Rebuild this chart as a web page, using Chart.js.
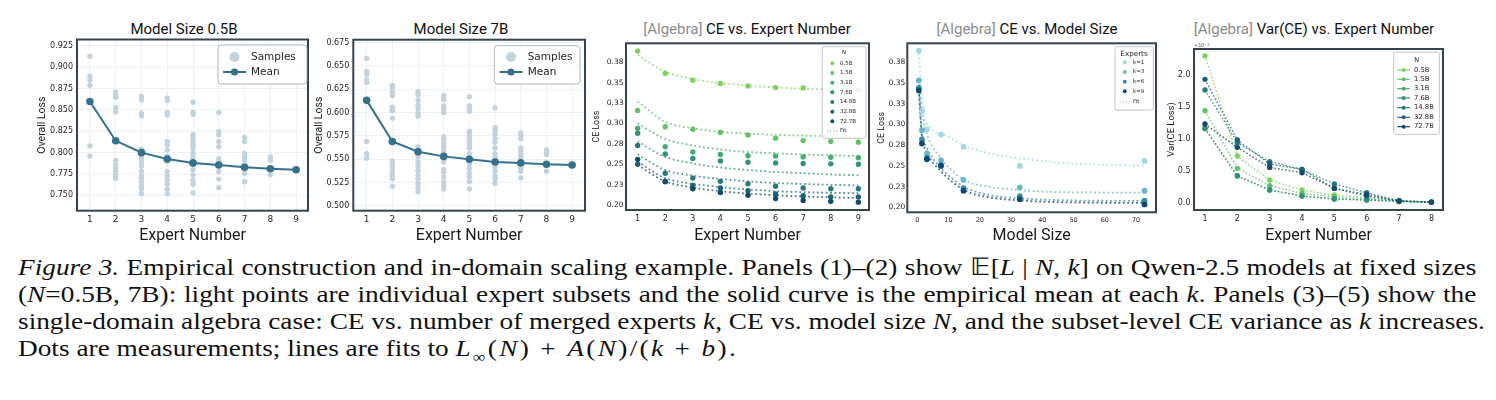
<!DOCTYPE html>
<html>
<head>
<meta charset="utf-8">
<script src="https://cdn.jsdelivr.net/npm/chart.js@4.4.1/dist/chart.umd.min.js"></script>
<style>
  body { margin: 0; background: #fff; width: 1496px; height: 400px; position: relative; overflow: hidden; }
  canvas { position: absolute; }
  .ttl { position: absolute; font-family: Roboto, sans-serif; font-size: 15px; color: #111; white-space: nowrap; transform: translate(-50%, -50%); }
  .ttl span { color: #8c8c8c; }
  #cap { position: absolute; left: 18px; top: 254px; width: 1255px; font-family: "Liberation Serif", serif; font-size: 23.5px; line-height: 27px; color: #111; transform: scaleX(1.162); transform-origin: 0 0; }
  #cap div { text-align: justify; text-align-last: justify; white-space: nowrap; }
  #cap div.last { text-align-last: left; }
  .math { letter-spacing: 2px; }
</style>
</head>
<body>
<div class="ttl" style="left:184px;top:29px">Model Size 0.5B</div>
<div class="ttl" style="left:461px;top:29px">Model Size 7B</div>
<div class="ttl" style="left:747px;top:29px"><span>[Algebra]</span> CE vs. Expert Number</div>
<div class="ttl" style="left:1027px;top:29px"><span>[Algebra]</span> CE vs. Model Size</div>
<div class="ttl" style="left:1314px;top:29px"><span>[Algebra]</span> Var(CE) vs. Expert Number</div>

<div id="cap">
  <div><i>Figure 3.</i> Empirical construction and in-domain scaling example. Panels (1)–(2) show 𝔼[<i>L</i> | <i>N</i>, <i>k</i>] on Qwen-2.5 models at fixed sizes</div>
  <div>(<i>N</i>=0.5B, 7B): light points are individual expert subsets and the solid curve is the empirical mean at each <i>k</i>. Panels (3)–(5) show the</div>
  <div>single-domain algebra case: CE vs. number of merged experts <i>k</i>, CE vs. model size <i>N</i>, and the subset-level CE variance as <i>k</i> increases.</div>
  <div class="last">Dots are measurements; lines are fits to <span class="math"><i>L</i><sub style="font-size:15px">∞</sub>(<i>N</i>) + <i>A</i>(<i>N</i>)/(<i>k</i> + <i>b</i>).</span></div>
</div>

<script>
// ── Data ──────────────────────────────────────────────────────────────
const K9 = [1, 2, 3, 4, 5, 6, 7, 8, 9];
const K9_LABELS = ["1", "2", "3", "4", "5", "6", "7", "8", "9"];
const K8 = [1, 2, 3, 4, 5, 6, 7, 8];
const K8_LABELS = ["1", "2", "3", "4", "5", "6", "7", "8"];

// Panel 1: Model Size 0.5B
const MEAN_05B = [0.860, 0.814, 0.800, 0.7926, 0.788, 0.7855, 0.7828, 0.7812, 0.780];
const SAMPLES_05B = [
  [0.913, 0.890, 0.885, 0.879, 0.860, 0.808, 0.796],
  [0.871, 0.867, 0.865, 0.853, 0.848, 0.814, 0.791, 0.786, 0.782, 0.778, 0.774, 0.770],
  [0.866, 0.862, 0.846, 0.843, 0.804, 0.800, 0.798, 0.794, 0.789, 0.784, 0.778, 0.773, 0.770, 0.766, 0.761, 0.757, 0.752],
  [0.864, 0.861, 0.847, 0.844, 0.813, 0.809, 0.803, 0.796, 0.790, 0.778, 0.773, 0.768, 0.763, 0.757, 0.752],
  [0.859, 0.847, 0.845, 0.821, 0.817, 0.813, 0.809, 0.805, 0.799, 0.795, 0.786, 0.780, 0.774, 0.768, 0.763, 0.753],
  [0.847, 0.825, 0.821, 0.813, 0.807, 0.793, 0.789, 0.778, 0.769, 0.759],
  [0.818, 0.813, 0.799, 0.795, 0.791, 0.786, 0.776, 0.766],
  [0.795, 0.791, 0.774],
  [0.780],
];
const Y_TICKS_05B = [0.75, 0.775, 0.8, 0.825, 0.85, 0.875, 0.9, 0.925];
const Y_LABELS_05B = ["0.750", "0.775", "0.800", "0.825", "0.850", "0.875", "0.900", "0.925"];

// Panel 2: Model Size 7B
const MEAN_7B = [0.613, 0.569, 0.558, 0.553, 0.550, 0.547, 0.546, 0.5445, 0.5438];
const SAMPLES_7B = [
  [0.658, 0.644, 0.641, 0.635, 0.632, 0.569, 0.556, 0.551],
  [0.629, 0.626, 0.622, 0.618, 0.606, 0.604, 0.602, 0.594, 0.548, 0.545, 0.541, 0.536, 0.532, 0.529, 0.521],
  [0.622, 0.619, 0.613, 0.608, 0.604, 0.599, 0.596, 0.563, 0.561, 0.553, 0.547, 0.543, 0.538, 0.533, 0.529, 0.524, 0.519, 0.515],
  [0.618, 0.614, 0.607, 0.604, 0.600, 0.574, 0.571, 0.567, 0.563, 0.559, 0.547, 0.539, 0.536, 0.531, 0.526, 0.522, 0.518],
  [0.617, 0.607, 0.604, 0.601, 0.580, 0.577, 0.573, 0.570, 0.566, 0.562, 0.556, 0.545, 0.540, 0.535, 0.531, 0.526, 0.518],
  [0.605, 0.584, 0.581, 0.577, 0.572, 0.568, 0.562, 0.556, 0.552, 0.541, 0.537, 0.532, 0.529, 0.524],
  [0.578, 0.576, 0.572, 0.562, 0.559, 0.555, 0.552, 0.540, 0.537, 0.530],
  [0.560, 0.557, 0.555, 0.537],
  [0.544],
];
const Y_TICKS_7B = [0.5, 0.525, 0.55, 0.575, 0.6, 0.625, 0.65, 0.675];
const Y_LABELS_7B = ["0.500", "0.525", "0.550", "0.575", "0.600", "0.625", "0.650", "0.675"];

// Panels 3-5: algebra domain
const SIZES = ["0.5B", "1.5B", "3.1B", "7.6B", "14.8B", "32.8B", "72.7B"];
const SIZE_B = [0.5, 1.5, 3.1, 7.6, 14.8, 32.8, 72.7];
// CE loss per model size, k = 1..9
const CE = [
  [0.389, 0.3615, 0.353, 0.349, 0.346, 0.344, 0.3435, 0.342, 0.341],
  [0.316, 0.296, 0.293, 0.289, 0.286, 0.282, 0.279, 0.278, 0.277],
  [0.294, 0.2715, 0.265, 0.262, 0.2605, 0.260, 0.259, 0.2585, 0.258],
  [0.288, 0.2625, 0.257, 0.254, 0.2525, 0.2515, 0.251, 0.2505, 0.250],
  [0.273, 0.239, 0.233, 0.229, 0.226, 0.223, 0.221, 0.220, 0.220],
  [0.250, 0.2285, 0.224, 0.221, 0.2175, 0.2135, 0.2115, 0.210, 0.2098],
  [0.256, 0.229, 0.220, 0.2155, 0.212, 0.208, 0.2057, 0.2045, 0.2035],
];
// fitted curves, read at k = 1..9
const CE_FIT = [
  [0.384, 0.3635, 0.3545, 0.3495, 0.3465, 0.3443, 0.3427, 0.3418, 0.341],
  [0.327, 0.302, 0.294, 0.290, 0.2875, 0.286, 0.285, 0.2845, 0.2838],
  [0.300, 0.281, 0.273, 0.268, 0.265, 0.2635, 0.262, 0.261, 0.260],
  [0.278, 0.259, 0.251, 0.246, 0.243, 0.2405, 0.239, 0.2375, 0.2365],
  [0.262, 0.243, 0.236, 0.232, 0.229, 0.227, 0.2258, 0.2248, 0.224],
  [0.253, 0.233, 0.226, 0.222, 0.219, 0.217, 0.2158, 0.215, 0.2145],
  [0.249, 0.229, 0.2215, 0.217, 0.214, 0.212, 0.2105, 0.2095, 0.2085],
];
const CE_TICKS = [0.2, 0.225, 0.25, 0.275, 0.3, 0.325, 0.35, 0.375];
const CE_LABELS = ["0.20", "0.23", "0.25", "0.28", "0.30", "0.33", "0.35", "0.38"];

// Panel 4: experts shown, and fits read along model size [N, CE]
const EXPERT_KS = [1, 3, 6, 9];
const FIT_K1 = [[0.5, 0.386], [1.9, 0.3175], [4.0, 0.2974], [10, 0.2853], [15, 0.2744], [23, 0.2652], [32.7, 0.2591], [44.3, 0.2543], [55, 0.2519], [72.7, 0.2503]];
const FIT_K3 = [[0.5, 0.3537], [1.4, 0.3175], [3, 0.2893], [7.2, 0.2611], [15, 0.233], [23, 0.2249], [32.7, 0.2209], [44, 0.2185], [72.7, 0.2177]];
const FIT_K6 = [[0.5, 0.3448], [1.4, 0.2933], [3, 0.2732], [7.2, 0.2491], [15, 0.2249], [23, 0.2149], [32.7, 0.2108], [44, 0.2088], [72.7, 0.2076]];
const FIT_K9 = [[0.5, 0.3416], [1.4, 0.2893], [3, 0.2672], [7.2, 0.245], [15, 0.2209], [23, 0.212], [32.7, 0.2084], [44, 0.2064], [72.7, 0.2052]];
const SIZE_TICKS = [0, 10, 20, 30, 40, 50, 60, 70];
const SIZE_LABELS = ["0", "10", "20", "30", "40", "50", "60", "70"];

// Panel 5: Var(CE) in units of 1e-3, k = 1..8
const VAR_CE_E3 = [
  [2.298, 0.731, 0.355, 0.198, 0.120, 0.080, 0.026, 0.010],
  [1.441, 0.538, 0.266, 0.146, 0.090, 0.060, 0.026, 0.010],
  [1.159, 0.418, 0.198, 0.104, 0.057, 0.042, 0.020, 0.008],
  [1.165, 0.422, 0.200, 0.106, 0.058, 0.043, 0.020, 0.008],
  [1.765, 0.940, 0.642, 0.522, 0.292, 0.157, 0.030, 0.010],
  [1.932, 0.982, 0.606, 0.522, 0.224, 0.104, 0.026, 0.010],
  [1.232, 0.867, 0.553, 0.470, 0.224, 0.130, 0.026, 0.010],
];
const VAR_TICKS = [0, 0.5, 1, 1.5, 2];
const VAR_LABELS = ["0.0", "0.5", "1.0", "1.5", "2.0"];

// ── Styles ────────────────────────────────────────────────────────────
const SAMPLE_C = "#c2d3de";
const MEAN_C = "#33718d";
const N_COLORS = ["#7fd25f", "#61c268", "#47aa70", "#339176", "#277a7b", "#1c6279", "#124a6b"];
const K_COLORS = ["#a0d8e2", "#6db6ca", "#3d8aa8", "#0d4a70"];
const FRAME_C = "#36434f";
const TICK_C = "#262626";

// ── Helpers ───────────────────────────────────────────────────────────
function scaleCfg(o) {
  return {
    type: "linear",
    min: o.min,
    max: o.max,
    afterBuildTicks: (s) => { s.ticks = o.ticks.map((v) => ({ value: v })); },
    afterFit: (s) => { if (s.isHorizontal()) s.height = o.size; else s.width = o.size; },
    ticks: {
      autoSkip: false,
      maxRotation: 0,
      padding: o.pad,
      color: TICK_C,
      font: { family: "DejaVu Sans", size: o.fs },
      callback: (v) => o.labels[o.ticks.indexOf(v)],
    },
    grid: { display: !!o.grid, color: "#e9edf0", lineWidth: 0.8, drawTicks: false },
    border: { display: false },
    title: { display: true, text: o.title, color: "#1a1a1a", font: { family: "Roboto", size: o.tfs }, padding: 0 },
  };
}

const framePlugin = {
  id: "frame",
  afterDatasetsDraw(chart) {
    const { ctx, chartArea: a } = chart;
    ctx.save();
    ctx.strokeStyle = FRAME_C;
    ctx.lineWidth = 2;
    ctx.strokeRect(a.left, a.top, a.right - a.left, a.bottom - a.top);
    ctx.restore();
  },
};

// legend box drawn inside the plot, page coordinates
function boxLegend(p, L) {
  return {
    id: "boxLegend",
    afterDraw(chart) {
      const ctx = chart.ctx;
      ctx.save();
      ctx.translate(-p.x0, -p.y0);
      ctx.beginPath();
      ctx.roundRect(L.x, L.y, L.w, L.h, L.rad);
      ctx.fillStyle = "rgba(255,255,255,0.85)";
      ctx.fill();
      ctx.lineWidth = 0.8;
      ctx.strokeStyle = L.edge;
      ctx.stroke();
      ctx.textBaseline = "middle";
      if (L.title) {
        ctx.font = L.tfs + 'px "DejaVu Sans"';
        ctx.fillStyle = TICK_C;
        ctx.textAlign = "center";
        ctx.fillText(L.title, L.titleX, L.titleY);
      }
      ctx.textAlign = "left";
      ctx.font = L.fs + 'px "DejaVu Sans"';
      L.items.forEach((it, i) => {
        const y = L.rows[i];
        if (it.kind === "dotted") {
          ctx.strokeStyle = it.color;
          ctx.lineWidth = 1.2;
          ctx.setLineDash([1.2, 1.8]);
          ctx.beginPath(); ctx.moveTo(L.h0, y); ctx.lineTo(L.h1, y); ctx.stroke();
          ctx.setLineDash([]);
        } else {
          if (it.kind === "linedot") {
            ctx.strokeStyle = it.color;
            ctx.lineWidth = it.lw;
            ctx.beginPath(); ctx.moveTo(L.h0, y); ctx.lineTo(L.h1, y); ctx.stroke();
          }
          ctx.fillStyle = it.color;
          ctx.beginPath(); ctx.arc((L.h0 + L.h1) / 2, y, it.r, 0, Math.PI * 2); ctx.fill();
        }
        ctx.fillStyle = TICK_C;
        ctx.fillText(it.label, L.tx, y);
      });
      ctx.restore();
    },
  };
}

function makeChart(p, datasets, xo, yo, extra) {
  const c = document.createElement("canvas");
  const w = p.x1 - p.x0, h = p.y1 - p.y0;
  c.width = w; c.height = h;
  c.style.left = p.x0 + "px"; c.style.top = p.y0 + "px";
  c.style.width = w + "px"; c.style.height = h + "px";
  document.body.appendChild(c);
  xo.size = p.y1 - p.box.b;
  yo.size = p.box.l - p.x0;
  return new Chart(c, {
    type: "scatter",
    data: { datasets },
    options: {
      responsive: false,
      animation: false,
      devicePixelRatio: 1,
      layout: { padding: { left: 0, top: p.box.t - p.y0, right: p.x1 - p.box.r, bottom: 0 } },
      plugins: { legend: { display: false }, tooltip: { enabled: false } },
      scales: { x: scaleCfg(xo), y: scaleCfg(yo) },
    },
    plugins: [framePlugin, ...extra],
  });
}

const pts = (xs, ys) => ys.map((v, i) => ({ x: xs[i], y: v }));

// ── Panels 1-2: samples and mean ──────────────────────────────────────
function samplePanel(p, samples, mean, yt, yl, ymin, ymax, xmin, xmax, leg) {
  const datasets = [
    { data: samples.flatMap((arr, i) => arr.map((v) => ({ x: K9[i], y: v }))),
      backgroundColor: SAMPLE_C, pointRadius: 2.7, pointBorderWidth: 0, order: 2 },
    { data: pts(K9, mean), showLine: true, borderColor: MEAN_C, backgroundColor: MEAN_C,
      borderWidth: 2, pointRadius: 3.8, pointBorderWidth: 0, order: 1 },
  ];
  makeChart(p, datasets,
    { min: xmin, max: xmax, ticks: K9, labels: K9_LABELS, fs: 9, pad: 4, grid: true, title: "Expert Number", tfs: 16 },
    { min: ymin, max: ymax, ticks: yt, labels: yl, fs: 8, pad: 4, grid: true, title: "Overall Loss", tfs: 10.5 },
    [boxLegend(p, leg)]);
}

const P1 = { x0: 36, y0: 20, x1: 312, y1: 246, box: { l: 77, r: 309, t: 39.5, b: 210.7 } };
samplePanel(P1, SAMPLES_05B, MEAN_05B, Y_TICKS_05B, Y_LABELS_05B, 0.732, 0.9326, 0.5, 9.46, {
  x: 218, y: 45, w: 89, h: 39, rad: 3, edge: "#9aa5af", fs: 10.5, tx: 251, h0: 223, h1: 246, rows: [57, 72],
  items: [{ kind: "dot", r: 5, color: SAMPLE_C, label: "Samples" }, { kind: "linedot", r: 3.6, lw: 2, color: MEAN_C, label: "Mean" }],
});

const P2 = { x0: 313, y0: 20, x1: 589, y1: 246, box: { l: 353.3, r: 585.7, t: 39.7, b: 210.7 } };
samplePanel(P2, SAMPLES_7B, MEAN_7B, Y_TICKS_7B, Y_LABELS_7B, 0.4948, 0.678, 0.48, 9.5, {
  x: 494.3, y: 45.7, w: 85.7, h: 38.3, rad: 3, edge: "#9aa5af", fs: 10.5, tx: 527.7, h0: 499.5, h1: 522.5, rows: [57, 72],
  items: [{ kind: "dot", r: 5, color: SAMPLE_C, label: "Samples" }, { kind: "linedot", r: 3.6, lw: 2, color: MEAN_C, label: "Mean" }],
});

// ── Panel 3: CE vs expert number ──────────────────────────────────────
const P3 = { x0: 592, y0: 20, x1: 873, y1: 246, box: { l: 626, r: 870, t: 43.3, b: 210 } };
makeChart(P3, [
  ...SIZES.map((s, i) => ({ data: pts(K9, CE[i]), backgroundColor: N_COLORS[i], pointRadius: 2.7, pointBorderWidth: 0, order: 10 - i })),
  ...SIZES.map((s, i) => ({ data: pts(K9, CE_FIT[i]), showLine: true, borderColor: N_COLORS[i] + "c0", borderWidth: 1.8,
    borderDash: [1.8, 2.6], pointRadius: 0, cubicInterpolationMode: "monotone", order: 30 - i })),
],
  { min: 0.578, max: 9.386, ticks: K9, labels: K9_LABELS, fs: 8, pad: 4, title: "Expert Number", tfs: 16 },
  { min: 0.1939, max: 0.3983, ticks: CE_TICKS, labels: CE_LABELS, fs: 7.5, pad: 2.5, title: "CE Loss", tfs: 8.8 },
  [boxLegend(P3, {
    x: 822.3, y: 46.7, w: 43.7, h: 91.6, rad: 2, edge: "#b5b5b5", fs: 5.5, tfs: 5.5, title: "N", titleX: 844, titleY: 52.7,
    tx: 840, h0: 827, h1: 837.6, rows: [63.3, 73, 82.7, 92.3, 102, 111.7, 121.3, 131],
    items: [...SIZES.map((s, i) => ({ kind: "dot", r: 2, color: N_COLORS[i], label: s })), { kind: "dotted", color: "#6f9c9c", label: "Fit" }],
  })]);

// ── Panel 4: CE vs model size ─────────────────────────────────────────
const P4 = { x0: 877, y0: 20, x1: 1160, y1: 246, box: { l: 907.3, r: 1157.3, t: 43.3, b: 212.3 } };
const FITS_BY_K = [FIT_K1, FIT_K3, FIT_K6, FIT_K9];
makeChart(P4, [
  ...EXPERT_KS.map((k, j) => ({ data: SIZE_B.map((n, i) => ({ x: n, y: CE[i][k - 1] })), backgroundColor: K_COLORS[j],
    pointRadius: 2.9, pointBorderWidth: 0, order: 10 - j })),
  ...FITS_BY_K.map((f, j) => ({ data: f.map(([n, v]) => ({ x: n, y: v })), showLine: true, borderColor: K_COLORS[j] + "c8",
    borderWidth: 1.8, borderDash: [1.8, 2.6], pointRadius: 0, cubicInterpolationMode: "monotone", order: 30 - j })),
],
  { min: -3.18, max: 76.36, ticks: SIZE_TICKS, labels: SIZE_LABELS, fs: 6.5, pad: 4, title: "Model Size", tfs: 16 },
  { min: 0.194, max: 0.3979, ticks: CE_TICKS, labels: CE_LABELS, fs: 7.5, pad: 2, title: "CE Loss", tfs: 8.8 },
  [boxLegend(P4, {
    x: 1115, y: 46.7, w: 38.3, h: 63.3, rad: 2, edge: "#b5b5b5", fs: 5.5, tfs: 7.2, title: "Experts", titleX: 1134, titleY: 54,
    tx: 1133, h0: 1119.5, h1: 1130, rows: [62.3, 72, 81.7, 91.3, 102],
    items: [...EXPERT_KS.map((k, j) => ({ kind: "dot", r: 2, color: K_COLORS[j], label: "k=" + k })), { kind: "dotted", color: "#86b0c2", label: "Fit" }],
  })]);

// ── Panel 5: Var(CE) vs expert number ─────────────────────────────────
const P5 = { x0: 1166, y0: 20, x1: 1447, y1: 246, box: { l: 1194, r: 1443.3, t: 49, b: 210 } };
const offsetText = {
  id: "offsetText",
  afterDraw(chart) {
    const ctx = chart.ctx;
    ctx.save();
    ctx.font = '5px "DejaVu Sans"';
    ctx.fillStyle = "#444";
    ctx.textBaseline = "middle";
    ctx.fillText("×10⁻³", 1194 - P5.x0, 45.7 - P5.y0);
    ctx.restore();
  },
};
makeChart(P5, SIZES.map((s, i) => ({
  data: pts(K8, VAR_CE_E3[i]), showLine: true, borderColor: N_COLORS[i] + "d0", backgroundColor: N_COLORS[i],
  borderWidth: 1.4, borderDash: [1.6, 2], pointRadius: 2.7, pointBorderWidth: 0, order: 10 - i,
})),
  { min: 0.66, max: 8.358, ticks: K8, labels: K8_LABELS, fs: 8, pad: 4, title: "Expert Number", tfs: 16 },
  { min: -0.114, max: 2.407, ticks: VAR_TICKS, labels: VAR_LABELS, fs: 8, pad: 3.5, title: "Var(CE Loss)", tfs: 9.4 },
  [offsetText, boxLegend(P5, {
    x: 1393.7, y: 52.3, w: 45.6, h: 82, rad: 2, edge: "#b5b5b5", fs: 6.8, tfs: 6.5, title: "N", titleX: 1416.7, titleY: 60,
    tx: 1414, h0: 1397.3, h1: 1410, rows: [70, 79.3, 88.7, 98, 107.7, 117.3, 126.7],
    items: SIZES.map((s, i) => ({ kind: "linedot", r: 2, lw: 1.2, color: N_COLORS[i], label: s })),
  })]);
</script>
</body>
</html>
